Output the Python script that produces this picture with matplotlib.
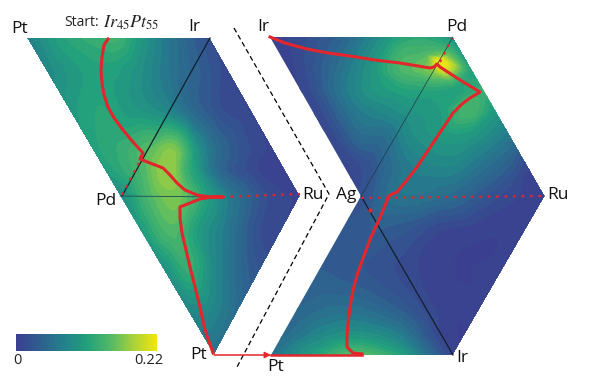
import matplotlib
matplotlib.use("Agg")
import matplotlib.pyplot as plt
import matplotlib.tri as mtri
from matplotlib.colors import LinearSegmentedColormap
from matplotlib.patches import Polygon
import numpy as np

# outlines of the two panels (picture coordinates)
left_outline = [(27, 38), (210, 38), (300, 196), (214, 355)]
right_outline = [(270, 37), (453, 37), (545, 196), (453, 355), (271, 355), (361, 196)]

# values, row by row: (x, y, value)
left_samples = [
    (27, 38, .07), (60, 38, .11), (100, 38, .13), (115, 38, .135), (140, 38, .10), (170, 38, .06), (210, 38, .02),
    (50, 70, .085), (80, 70, .105), (110, 70, .11), (140, 70, .09), (170, 70, .06), (200, 70, .035), (228, 70, .012),
    (70, 110, .10), (100, 110, .115), (130, 110, .10), (160, 110, .085), (190, 110, .05), (220, 110, .02), (250, 110, .008),
    (95, 150, .11), (120, 150, .125), (150, 150, .15), (175, 150, .165), (200, 150, .085), (225, 150, .04), (272, 150, .006),
    (110, 170, .11), (140, 170, .14), (170, 170, .175), (190, 170, .12), (220, 170, .045), (260, 170, .008),
    (120, 196, .085), (150, 196, .145), (180, 196, .16), (210, 196, .10), (240, 196, .05), (270, 196, .015), (300, 196, .008),
    (140, 230, .10), (170, 230, .145), (200, 230, .10), (230, 230, .06), (260, 230, .018), (280, 230, .01),
    (165, 270, .09), (190, 270, .125), (215, 270, .08), (240, 270, .045), (258, 270, .025),
    (190, 310, .08), (210, 310, .08), (236, 310, .05),
    (214, 355, .055),
]

# values
right_samples = [
    (270, 37, .005), (310, 37, .02), (350, 37, .05), (390, 37, .10), (420, 37, .12), (453, 37, .09),
    (285, 55, .005), (320, 55, .03), (360, 55, .075), (400, 55, .135), (425, 55, .145), (463, 55, .10),
    (440, 62, .22), (450, 55, .15), (432, 72, .165),
    (295, 70, .008), (330, 70, .045), (370, 70, .095), (400, 70, .14), (472, 70, .11),
    (305, 90, .012), (340, 90, .06), (370, 90, .095), (400, 90, .11), (430, 90, .115), (455, 90, .11), (484, 90, .125),
    (320, 110, .015), (350, 110, .06), (380, 110, .08), (410, 110, .095), (440, 110, .105), (470, 110, .14), (495, 110, .10),
    (333, 135, .015), (360, 135, .05), (385, 135, .055), (410, 135, .085), (440, 135, .10), (470, 135, .10), (509, 135, .065),
    (350, 165, .01), (370, 165, .025), (390, 165, .05), (420, 165, .075), (450, 165, .08), (480, 165, .06), (510, 165, .035), (527, 165, .012),
    (361, 196, .02), (390, 196, .055), (420, 196, .06), (450, 196, .05), (480, 196, .03), (510, 196, .012), (545, 196, .004),
    (345, 230, .03), (370, 230, .035), (400, 230, .03), (440, 230, .01), (480, 230, .003), (525, 230, .002),
    (322, 270, .035), (350, 270, .03), (380, 270, .022), (410, 270, .012), (440, 270, .002), (500, 270, .001),
    (298, 310, .045), (330, 310, .055), (360, 310, .055), (400, 310, .035), (430, 310, .012), (478, 310, .001),
    (285, 335, .05), (320, 335, .08), (360, 335, .095), (400, 335, .07), (440, 335, .01),
    (271, 355, .06), (310, 355, .105), (360, 355, .15), (400, 355, .11), (430, 355, .05), (453, 355, .006),
]

# red paths
left_path_x = [108, 104, 102, 101, 102, 104, 108, 114, 123, 133, 143, 141, 140, 150, 163, 170, 177, 185, 197, 210, 220,
               223, 212, 200, 190, 180, 180, 182, 186, 190, 195, 200, 205, 213]
left_path_y = [39, 45, 57, 70, 83, 95, 107, 118, 130, 142, 153, 157, 159, 163, 168, 175, 183, 190, 195, 197, 197,
               197, 197, 199, 203, 207, 218, 233, 250, 267, 287, 307, 330, 353]
right_path_x = [270, 285, 307, 328, 350, 375, 400, 418, 430, 434, 437, 440, 460, 480, 470, 462, 453, 445, 437, 427, 417,
                407, 397, 390, 388, 384, 378, 371, 365, 358, 353, 350, 348, 347, 347, 353, 362]
right_path_y = [37, 43, 49, 53, 56, 60, 63, 66, 68, 67, 64, 67, 80, 92, 98, 104, 113, 125, 137, 152, 167,
                180, 192, 195, 198, 208, 222, 237, 253, 272, 290, 307, 323, 337, 347, 353, 354]

# red dotted parts
dot_paths = [
    ([122, 143], [195, 155]),
    ([222, 300], [197, 194]),
    ([361, 545], [198, 196]),
    ([440, 452], [62, 38]),
]

# corner labels
labels = [("Pt", 20, 29), ("Ir", 194, 27), ("Ir", 263, 27), ("Pd", 457, 27), ("Pd", 106, 201),
          ("Ru", 313, 195), ("Ag", 346, 195), ("Ru", 558, 195), ("Pt", 199, 355), ("Pt", 276, 367), ("Ir", 462, 358)]

cmap = LinearSegmentedColormap.from_list(
    "bar", ["#3b3f8f", "#2f5f8f", "#24808c", "#22a07c", "#50b868", "#a9d23a", "#f2e60f"])
levels = np.linspace(0, 0.22, 26)

fig = plt.figure(figsize=(5.95, 3.83), dpi=100)
ax = fig.add_axes([0, 0, 1, 1])
ax.set_xlim(0, 595)
ax.set_ylim(383, 0)
ax.axis("off")


def draw_panel(samples, outline):
    s = np.array(samples)
    tri = mtri.Triangulation(s[:, 0], s[:, 1])
    interp = mtri.CubicTriInterpolator(tri, s[:, 2], kind="geom")
    o = np.array(outline)
    xi, yi = np.meshgrid(np.arange(o[:, 0].min(), o[:, 0].max() + 1), np.arange(o[:, 1].min(), o[:, 1].max() + 1))
    zi = interp(xi, yi)
    cs = ax.contourf(xi, yi, np.ma.clip(zi, 0, 0.22), levels=levels, cmap=cmap, extend="both")
    clip = Polygon(outline, closed=True, transform=ax.transData, fc="none", ec="none")
    ax.add_patch(clip)
    cs.set_clip_path(clip)


draw_panel(left_samples, left_outline)
draw_panel(right_samples, right_outline)

# black lines on the panels
ax.plot([210, 122], [38, 196], color="#10202a", lw=0.9)
ax.plot([120, 222], [196, 197], color="#1c4a5a", lw=0.6)
ax.plot([453, 361], [37, 196], color="#1c3a4a", lw=0.5)
ax.plot([361, 453], [196, 355], color="#10202a", lw=0.9)

# dashed chevron between panels
ax.plot([234, 329, 237], [28, 194, 367], color="black", lw=0.9, ls=(0, (4, 2.5)))

# red paths
red = "#e3262b"
ax.plot(left_path_x, left_path_y, color=red, lw=2.2, solid_joinstyle="round")
ax.plot(right_path_x, right_path_y, color=red, lw=2.2, solid_joinstyle="round")
ax.plot([271, 362], [355, 355], color=red, lw=1.8)
for xs, ys in dot_paths:
    ax.plot(xs, ys, color=red, lw=1.6, ls=(0, (1.2, 2.6)))
ax.plot([370], [210], "o", color=red, ms=2)
ax.annotate("", xy=(271, 355), xytext=(214, 355),
            arrowprops=dict(arrowstyle="-|>", color=red, lw=1.1, shrinkA=0, shrinkB=0, mutation_scale=9))

# labels
for name, x, y in labels:
    ax.text(x, y, name, family="Open Sans", fontsize=12.5, ha="center", va="center", color="#111111")
ax.text(64, 22, "Start:", family="Open Sans", fontsize=10, ha="left", va="center", color="#222222")
ax.text(103, 23, r"$Ir_{45}Pt_{55}$", fontsize=13, ha="left", va="center",
        color="#222222", math_fontfamily="stix")

# colour bar
gradient = np.linspace(0, 1, 256).reshape(1, -1)
ax.imshow(gradient, cmap=cmap, extent=(16, 157, 351, 334), aspect="auto", zorder=3)
ax.set_xlim(0, 595)
ax.set_ylim(383, 0)
ax.text(17, 360, "0", family="Open Sans", fontsize=10.5, ha="center", va="center", color="#222222")
ax.text(149, 360, "0.22", family="Open Sans", fontsize=10.5, ha="center", va="center", color="#222222")

fig.savefig("out.png", dpi=100)
